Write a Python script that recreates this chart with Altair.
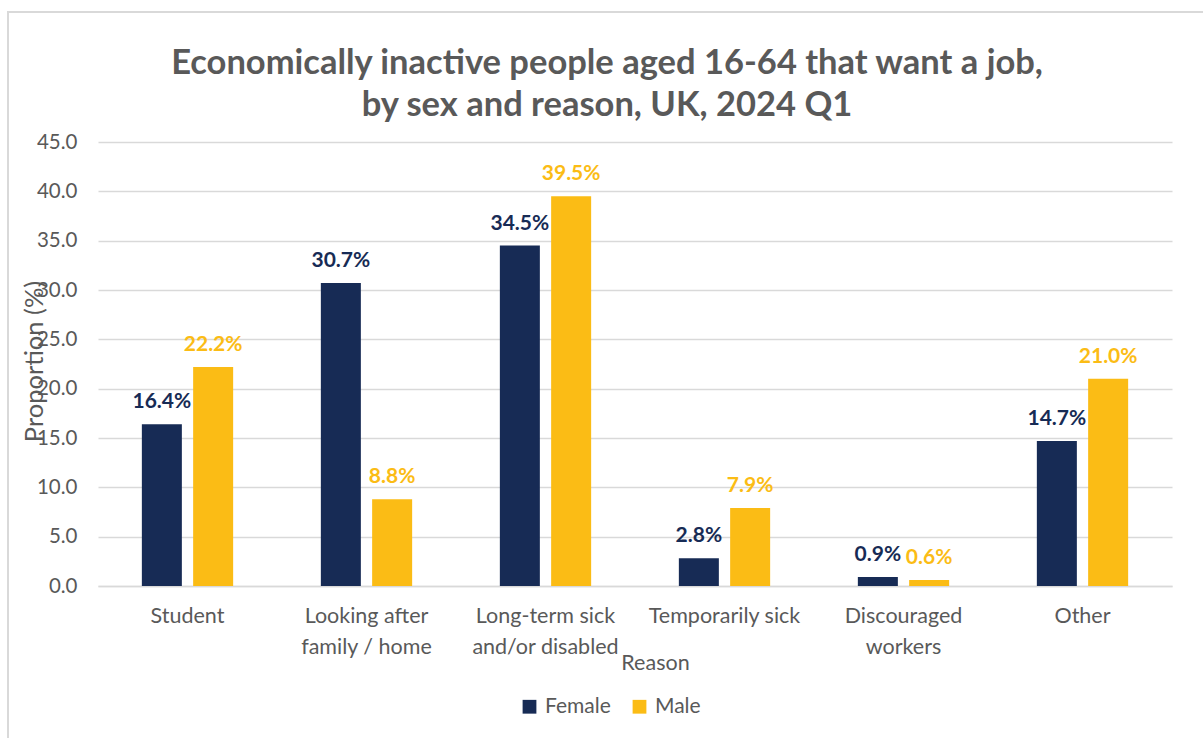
import altair as alt
import pandas as pd

categories = ["Student", "Looking after family / home", "Long-term sick and/or disabled",
              "Temporarily sick", "Discouraged workers", "Other"]
category_lines = [["Student"], ["Looking after", "family / home"], ["Long-term sick", "and/or disabled"],
                  ["Temporarily sick"], ["Discouraged", "workers"], ["Other"]]
sexes = ["Female", "Male"]
female = [16.4, 30.7, 34.5, 2.8, 0.9, 14.7]
male = [22.2, 8.8, 39.5, 7.9, 0.6, 21.0]
colors = ["#172B55", "#FBBC15"]
y_ticks = [0, 5, 10, 15, 20, 25, 30, 35, 40, 45]

rows = []
for c, f, m in zip(categories, female, male):
    rows.append({"Reason": c, "Sex": "Female", "Value": f})
    rows.append({"Reason": c, "Sex": "Male", "Value": m})
df = pd.DataFrame(rows)
df["Label"] = df["Value"].map(lambda v: f"{v:.1f}%")

FONT = "Lato"
GRAY = "#595959"

label_expr = " : ".join(
    f"datum.label == '{c}' ? {lines!r}" for c, lines in zip(categories, category_lines)
) + " : datum.label"

x = alt.X("Reason:N", sort=categories,
          scale=alt.Scale(paddingInner=0.49, paddingOuter=0.245),
          axis=alt.Axis(title="Reason", labelAngle=0, labelExpr=label_expr,
                        labelFontSize=21.5, labelColor=GRAY, labelFont=FONT,
                        labelPadding=19, labelLineHeight=31, ticks=False,
                        domain=True, domainColor="#d9d9d9", domainWidth=1.5,
                        titleFont=FONT, titleFontSize=21.5, titleColor=GRAY,
                        titleFontWeight="normal", titleX=557, titleY=77,
                        titleBaseline="middle"))
xo = alt.XOffset("Sex:N", sort=sexes, scale=alt.Scale(paddingInner=0.22, paddingOuter=0))
y = alt.Y("Value:Q", scale=alt.Scale(domain=[0, 45], nice=False),
          axis=alt.Axis(title="Proportion (%)", values=y_ticks, format=".1f",
                        labelFontSize=20.5, labelColor=GRAY, labelFont=FONT,
                        labelPadding=21, ticks=False, domain=False,
                        gridColor="#d9d9d9", gridWidth=1.5,
                        titleFont=FONT, titleFontSize=25.5, titleColor=GRAY,
                        titleFontWeight="normal", titleX=-64, titleY=219,
                        titleAlign="center", titleBaseline="middle"))
color = alt.Color("Sex:N", sort=sexes, scale=alt.Scale(domain=sexes, range=colors),
                  legend=alt.Legend(title=None, orient="none", direction="horizontal",
                                    legendX=421, legendY=554, symbolType="square",
                                    symbolSize=190, symbolStrokeWidth=0,
                                    labelFont=FONT, labelFontSize=21, labelColor=GRAY,
                                    columnPadding=18, labelOffset=5))

base = alt.Chart(df)
bars = base.mark_bar().encode(x=x, xOffset=xo, y=y, color=color)
labels = base.mark_text(fontWeight="bold", fontSize=21, font=FONT, dy=-16,
                        baseline="alphabetic").encode(
    x=alt.X("Reason:N", sort=categories), xOffset=alt.XOffset("Sex:N", sort=sexes), y="Value:Q",
    text="Label:N", color=alt.Color("Sex:N", sort=sexes, legend=None))

frame = alt.Chart(df).mark_rect(fill=None, stroke="#d9d9d9", strokeWidth=1.5).encode(
    x=alt.value(-90), x2=alt.value(1110), y=alt.value(-130), y2=alt.value(620))

chart = alt.layer(frame, bars, labels).properties(
    width=1074, height=444,
    title=alt.TitleParams(["Economically inactive people aged 16-64 that want a job,",
                           "by sex and reason, UK, 2024 Q1"],
                          font=FONT, fontSize=34.5, fontWeight="bold", color=GRAY,
                          anchor="middle", frame="group", dx=-28, lineHeight=42, offset=0,
                          baseline="top", dy=112),
    autosize=alt.AutoSizeParams(type="none"),
    padding={"left": 98, "top": 142, "right": 31, "bottom": 152},
).configure_view(stroke=None)

chart.save("out.html", embed_options={"renderer": "svg", "actions": False})
